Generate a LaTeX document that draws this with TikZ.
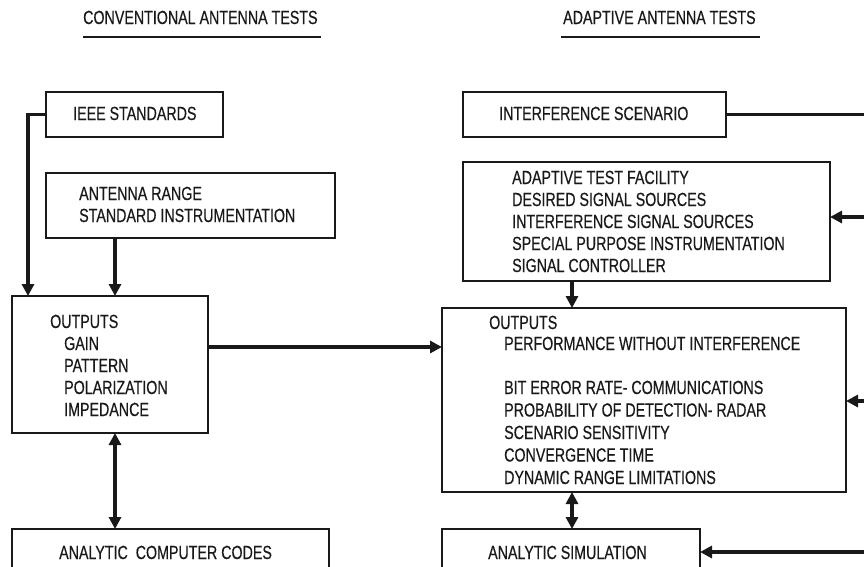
\documentclass[tikz,border=0pt]{standalone}
\usepackage{fontspec}
\setmainfont{Liberation Sans}[FakeStretch=0.75,UprightFeatures={FakeBold=0.4}]
\usetikzlibrary{arrows.meta}
\begin{document}
\begin{tikzpicture}[x=1pt,y=-1pt,
  every node/.style={font=\fontsize{19pt}{22pt}\selectfont, text=black!90},
  boxnode/.style={draw=black!90, line width=2.8pt, inner sep=0pt, outer sep=0pt, anchor=north west},
  txt/.style={anchor=base west, inner sep=0pt},
  tip/.tip={Triangle[length=12pt,width=12pt]},
  arr/.style={draw=black!90, line width=3.2pt, -tip},
  darr/.style={draw=black!90, line width=3.2pt, tip-tip},
  plain/.style={draw=black!90, line width=3.2pt}]
\useasboundingbox (0,0) rectangle (864,566);
\clip (0,0) rectangle (864,566);
\fill[white] (0,0) rectangle (864,566);

% titles
\node[txt] (t1) at (83,24) {CONVENTIONAL ANTENNA TESTS};
\node[txt] (t2) at (563,24) {ADAPTIVE ANTENNA TESTS};
\draw[line width=2.4pt, black!90] ([yshift=-13pt]t1.base west) -- ([yshift=-13pt,xshift=3pt]t1.base east);
\draw[line width=2.4pt, black!90] ([yshift=-13pt,xshift=-2pt]t2.base west) -- ([yshift=-13pt,xshift=4pt]t2.base east);

% left column boxes
\node[boxnode, minimum width=177pt, minimum height=45pt] (ieee) at (46,92) {};
\node[txt] (ieeet) at (73,120) {IEEE STANDARDS};

\node[boxnode, minimum width=289pt, minimum height=65pt] (range) at (46,173) {};
\node[txt] (range1) at (79,200) {ANTENNA RANGE};
\node[txt] (range2) at (79,222) {STANDARD INSTRUMENTATION};

\node[boxnode, minimum width=196pt, minimum height=137pt] (lo) at (12,296) {};
\node[txt] (lo1) at (50,328) {OUTPUTS};
\node[txt] (lo2) at (64,350) {GAIN};
\node[txt] (lo3) at (64,372) {PATTERN};
\node[txt] (lo4) at (64,394) {POLARIZATION};
\node[txt] (lo5) at (64,416) {IMPEDANCE};

\node[boxnode, minimum width=317pt, minimum height=48pt] (acc) at (12,529) {};
\node[txt] (acct) at (59,559) {ANALYTIC\ \ COMPUTER CODES};

% right column boxes
\node[boxnode, minimum width=263pt, minimum height=45pt] (isc) at (463,92) {};
\node[txt] (isct) at (499,120) {INTERFERENCE SCENARIO};

\node[boxnode, minimum width=367pt, minimum height=119pt] (adf) at (463,162) {};
\node[txt] (adf1) at (512,184) {ADAPTIVE TEST FACILITY};
\node[txt] (adf2) at (512,206) {DESIRED SIGNAL SOURCES};
\node[txt] (adf3) at (512,228) {INTERFERENCE SIGNAL SOURCES};
\node[txt] (adf4) at (512,250) {SPECIAL PURPOSE INSTRUMENTATION};
\node[txt] (adf5) at (512,272) {SIGNAL CONTROLLER};

\node[boxnode, minimum width=404pt, minimum height=184pt] (ro) at (442,308) {};
\node[txt] (ro1) at (489,329) {OUTPUTS};
\node[txt] (ro2) at (504,350) {PERFORMANCE WITHOUT INTERFERENCE};
\node[txt] (ro3) at (504,394) {BIT ERROR RATE- COMMUNICATIONS};
\node[txt] (ro4) at (504,416.5) {PROBABILITY OF DETECTION- RADAR};
\node[txt] (ro5) at (504,439) {SCENARIO SENSITIVITY};
\node[txt] (ro6) at (504,461.5) {CONVERGENCE TIME};
\node[txt] (ro7) at (504,484) {DYNAMIC RANGE LIMITATIONS};

\node[boxnode, minimum width=258pt, minimum height=48pt] (asim) at (442,529) {};
\node[txt] (asimt) at (488,559) {ANALYTIC SIMULATION};

% helper coordinates
\coordinate (xl) at (28,0);
\coordinate (xr) at (115,0);
\coordinate (xm) at (572,0);
\coordinate (yo) at (0,347);
\coordinate (xe) at (870,0);
\coordinate (e2) at (870,217);
\coordinate (e3) at (870,401);
\coordinate (e4) at (870,552);

% connectors
\draw[arr] (ieee.west) -| (lo.north -| xl);
\draw[arr] (range.south -| xr) -- (lo.north -| xr);
\draw[arr] (lo.east |- yo) -- (ro.west |- yo);
\draw[darr] (lo.south -| xr) -- (acc.north -| xr);

\draw[plain] (isc.east) -- (isc.east -| xe);
\draw[arr] (e2) -- (adf.east |- e2);
\draw[arr] (adf.south -| xm) -- (ro.north -| xm);
\draw[arr] (e3) -- (ro.east |- e3);
\draw[darr] (ro.south -| xm) -- (asim.north -| xm);
\draw[arr] (e4) -- (asim.east |- e4);
\end{tikzpicture}
\end{document}
